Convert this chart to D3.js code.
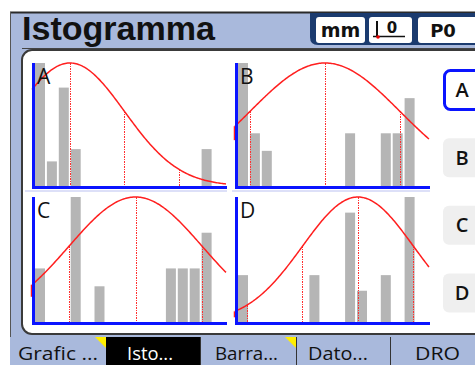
<!DOCTYPE html>
<html><head><meta charset="utf-8">
<script src="https://cdn.jsdelivr.net/npm/d3@7/dist/d3.min.js"></script>
<style>html,body{margin:0;padding:0;background:#fff;overflow:hidden}</style>
</head><body>
<svg id="c" width="475" height="365"></svg>
<script>
// ---- data ----
const panelNames = ["A", "B", "C", "D"];
const countsA = [10, 2, 8, 3, 0, 0, 0, 0, 0, 0, 0, 0, 0, 0, 3, 0];
const countsB = [7, 3, 2, 0, 0, 0, 0, 0, 0, 3, 0, 0, 3, 3, 5, 0];
const countsC = [3, 0, 0, 7, 0, 2, 0, 0, 0, 0, 0, 3, 3, 3, 5, 0];
const countsD = [3, 0, 0, 0, 0, 0, 3, 0, 0, 7, 2, 0, 3, 0, 8, 0];
const yMaxes = [10, 7, 7, 8];
const means = [2.94, 7.31, 8.45, 10.08];
const sigmas = [4.58, 6.3, 5.59, 4.66];
const markersA = [2.94, 7.52, 12.1];
const markersB = [1.01, 7.31, 13.61];
const markersC = [2.86, 8.45, 14.04];
const markersD = [0.76, 5.42, 10.08, 14.74];
const tabLabels = ["Grafic ...", "Isto...", "Barra...", "Dato...", "DRO"];
const sideButtons = ["A", "B", "C", "D"];
const titleText = "Istogramma";

const counts = [countsA, countsB, countsC, countsD];
const markers = [markersA, markersB, markersC, markersD];

// ---- styles ----
const BG = "#a9b9dc", NAVY = "#1b3b6f", BLUE = "#0a14ff", RED = "#ff1f1f", GRAY = "#b5b5b5";
const stubLen = [0, 14, 12, 6];
const svg = d3.select("#c");

// frame
svg.append("rect").attr("x", 0).attr("y", 0).attr("width", 475).attr("height", 365).attr("fill", "#fff");
svg.append("rect").attr("x", 10).attr("y", 12).attr("width", 470).attr("height", 360).attr("fill", BG);
svg.append("line").attr("x1", 10).attr("x2", 475).attr("y1", 12.5).attr("y2", 12.5).attr("stroke", "#2a2a2a").attr("stroke-width", 2);
svg.append("line").attr("x1", 10.5).attr("x2", 10.5).attr("y1", 12).attr("y2", 365).attr("stroke", "#555").attr("stroke-width", 1);

// title
svg.append("text").attr("x", 22).attr("y", 40).text(titleText)
  .attr("font-family", "Liberation Sans, Arial, sans-serif").attr("font-weight", "bold")
  .attr("font-size", 33).attr("textLength", 193).attr("lengthAdjust", "spacingAndGlyphs").attr("fill", "#111");

// header right block
svg.append("path").attr("d", "M310,13 H475 V45 H318 Q310,45 310,37 Z").attr("fill", NAVY);
svg.append("rect").attr("x", 316).attr("y", 17).attr("width", 49).attr("height", 26).attr("rx", 3).attr("fill", "#fff");
svg.append("rect").attr("x", 369).attr("y", 17).attr("width", 43).attr("height", 26).attr("rx", 3).attr("fill", "#fff");
svg.append("rect").attr("x", 418).attr("y", 17).attr("width", 70).attr("height", 26).attr("rx", 3).attr("fill", "#fff");
svg.append("text").attr("x", 340.5).attr("y", 37).attr("text-anchor", "middle").text("mm")
  .attr("font-family", "DejaVu Sans, sans-serif").attr("font-weight", "bold").attr("font-size", 19).attr("fill", "#111");
svg.append("text").attr("x", 443).attr("y", 37).attr("text-anchor", "middle").text("P0")
  .attr("font-family", "DejaVu Sans, sans-serif").attr("font-weight", "bold").attr("font-size", 18).attr("fill", "#111");
svg.append("line").attr("x1", 377).attr("x2", 377).attr("y1", 21).attr("y2", 37).attr("stroke", "#111").attr("stroke-width", 2);
svg.append("line").attr("x1", 373).attr("x2", 405).attr("y1", 36.5).attr("y2", 36.5).attr("stroke", "#111").attr("stroke-width", 1.5);
svg.append("text").attr("x", 392).attr("y", 33).attr("text-anchor", "middle").text("0")
  .attr("font-family", "DejaVu Sans, sans-serif").attr("font-weight", "bold").attr("font-size", 15).attr("fill", "#111");
svg.append("circle").attr("cx", 378).attr("cy", 37).attr("r", 1.8).attr("fill", "#e00");

// main panel
svg.append("line").attr("x1", 22).attr("x2", 475).attr("y1", 48.5).attr("y2", 48.5).attr("stroke", "#444").attr("stroke-width", 1);
svg.append("rect").attr("x", 22).attr("y", 50).attr("width", 470).attr("height", 284).attr("rx", 10)
  .attr("fill", "#fff").attr("stroke", "#3a3a3a").attr("stroke-width", 2);

// ---- histograms ----
const layout = [
  { L: 32, top: 63, base: 186 },
  { L: 235, top: 63, base: 186 },
  { L: 32, top: 197, base: 322 },
  { L: 235, top: 197, base: 322 }
];
const plotW = 195, step = 11.9;

layout.forEach((p, k) => {
  const g = svg.append("g");
  const x = d3.scaleLinear().domain([-3 / step, (plotW - 3) / step]).range([p.L, p.L + plotW]);
  const y = d3.scaleLinear().domain([0, yMaxes[k]]).range([p.base, p.top]);
  const data = counts[k].map((v, i) => ({ i, v })).filter(d => d.v > 0);
  g.selectAll("rect.bar").data(data).enter().append("rect").attr("class", "bar")
    .attr("x", d => x(d.i)).attr("width", 10)
    .attr("y", d => y(d.v)).attr("height", d => y(0) - y(d.v)).attr("fill", GRAY);

  const mu = means[k], sd = sigmas[k];
  const fit = t => yMaxes[k] * Math.exp(-0.5 * Math.pow((t - mu) / sd, 2));
  const xs = d3.range(x.domain()[0], x.domain()[1] + 0.001, 0.1);
  const line = d3.line().x(t => x(t)).y(t => y(fit(t)));
  // marker lines (dotted)
  g.selectAll("line.m").data(markers[k]).enter().append("line").attr("class", "m")
    .attr("x1", d => Math.round(x(d)) + 0.5).attr("x2", d => Math.round(x(d)) + 0.5)
    .attr("y1", d => y(fit(d))).attr("y2", y(0))
    .attr("stroke", "#ff3030").attr("stroke-width", 1).attr("stroke-dasharray", "1.5,1")
    .attr("shape-rendering", "crispEdges");
  // left stub
  const x0 = x.domain()[0];
  if (stubLen[k] > 0) {
    g.append("line").attr("x1", x(x0) - 0.5).attr("x2", x(x0) - 0.5)
      .attr("y1", y(fit(x0))).attr("y2", y(fit(x0)) + stubLen[k]).attr("stroke", RED).attr("stroke-width", 1.5);
  }
  g.append("path").attr("d", line(xs)).attr("fill", "none").attr("stroke", RED).attr("stroke-width", 1.5);

  // axes
  g.append("rect").attr("x", p.L).attr("y", p.top).attr("width", 3).attr("height", p.base - p.top + 3).attr("fill", BLUE);
  g.append("rect").attr("x", p.L).attr("y", p.base).attr("width", plotW).attr("height", 3).attr("fill", BLUE);

  g.append("text").attr("x", p.L + 5).attr("y", p.top + 21).text(panelNames[k])
    .attr("font-family", "Open Sans, sans-serif").attr("font-weight", 500).attr("font-size", 21).attr("fill", "#111");
});
// separator between rows
svg.append("rect").attr("x", 25).attr("y", 190).attr("width", 202).attr("height", 2).attr("fill", "#dde0f8");
svg.append("rect").attr("x", 232).attr("y", 190).attr("width", 198).attr("height", 2).attr("fill", "#dde0f8");

// side buttons
const btnY = d3.scalePoint().domain(sideButtons).range([90, 293]);
sideButtons.forEach((b, i) => {
  const cy = btnY(b);
  svg.append("rect").attr("x", i === 0 ? 444.5 : 443).attr("y", cy - 19.5).attr("width", 45).attr("height", 39).attr("rx", 6)
    .attr("fill", i === 0 ? "#fff" : "#efefef")
    .attr("stroke", i === 0 ? BLUE : "none").attr("stroke-width", 3);
  svg.append("text").attr("x", 462).attr("y", cy + 7).attr("text-anchor", "middle").text(b)
    .attr("font-family", "Open Sans, sans-serif").attr("font-weight", 600).attr("font-size", 20).attr("fill", "#111");
});

// tabs
const tabEdges = [10, 106, 200, 296, 390, 475];
const tabTextX = [18, 127, 215, 308, 415];
const tabTextW = [80, 46, 63, 60, 45];
tabLabels.forEach((t, i) => {
  const sel = i === 1;
  svg.append("rect").attr("x", tabEdges[i]).attr("y", 337).attr("width", tabEdges[i + 1] - tabEdges[i]).attr("height", 28)
    .attr("fill", sel ? "#000" : BG);
  svg.append("text").attr("x", tabTextX[i]).attr("y", 360).text(t)
    .attr("textLength", tabTextW[i]).attr("lengthAdjust", "spacingAndGlyphs")
    .attr("font-family", "Open Sans, sans-serif").attr("font-size", 18).attr("fill", sel ? "#fff" : "#111");
});
[200, 296, 390].forEach(e => svg.append("line").attr("x1", e + 0.5).attr("x2", e + 0.5).attr("y1", 337).attr("y2", 365).attr("stroke", "#333"));
[106, 296].forEach(e => svg.append("path").attr("d", `M${e - 11},337 H${e} V348 Z`).attr("fill", "#ffee00"));
</script>
</body></html>
